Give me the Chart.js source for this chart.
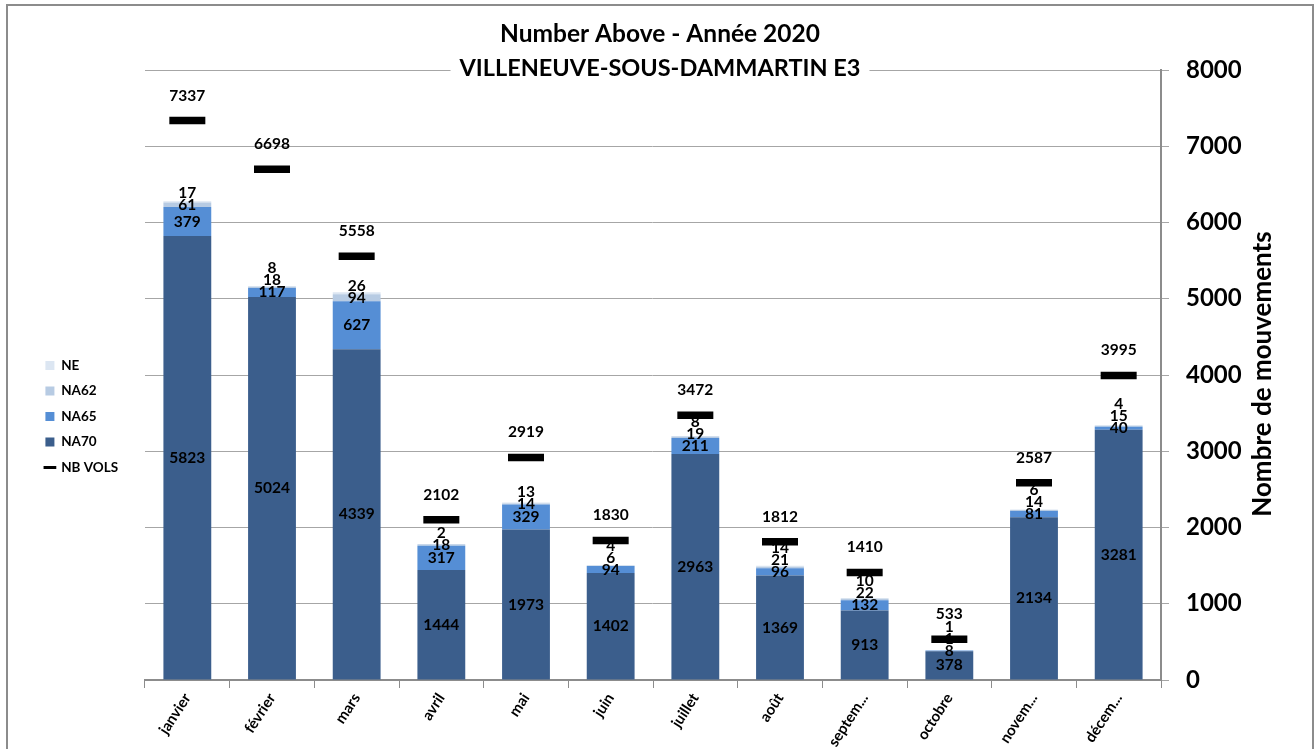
<!DOCTYPE html>
<html>
<head>
<meta charset="utf-8">
<script src="https://cdn.jsdelivr.net/npm/chart.js@4.4.0/dist/chart.umd.min.js"></script>
<style>
  html, body { margin: 0; padding: 0; background: #fff; }
  #wrap { position: relative; width: 1316px; height: 749px; overflow: hidden; }
  #frame { position: absolute; left: 6px; top: 4px; width: 1304px; height: 780px; border: 2px solid #8c8c8c; pointer-events: none; }
</style>
</head>
<body>
<div id="wrap">
  <canvas id="myChart" width="1316" height="749"></canvas>
  <div id="frame"></div>
</div>
<script>
const months = ["janvier", "février", "mars", "avril", "mai", "juin", "juillet", "août", "septem...", "octobre", "novem...", "décem..."];
const na70 = [5823, 5024, 4339, 1444, 1973, 1402, 2963, 1369, 913, 378, 2134, 3281];
const na65 = [379, 117, 627, 317, 329, 94, 211, 96, 132, 8, 81, 40];
const na62 = [61, 18, 94, 18, 14, 6, 19, 21, 22, 1, 14, 15];
const ne = [17, 8, 26, 2, 13, 4, 8, 14, 10, 1, 6, 4];
const nbVols = [7337, 6698, 5558, 2102, 2919, 1830, 3472, 1812, 1410, 533, 2587, 3995];
const yTickValues = [0, 1000, 2000, 3000, 4000, 5000, 6000, 7000, 8000];

// legend shows NE first, NB VOLS last
const legendRank = [3, 2, 1, 0, 4];
const FONT = "Lato";

// numbers on the bars and above the NB VOLS marks
const valueLabels = {
  id: "valueLabels",
  afterDatasetsDraw(chart) {
    const ctx = chart.ctx;
    ctx.save();
    ctx.font = "bold 15.5px " + FONT;
    ctx.fillStyle = "#000";
    ctx.textAlign = "center";
    ctx.textBaseline = "middle";
    for (let i = 0; i < months.length; i++) {
      let lastY = Infinity;
      for (let d = 0; d < 4; d++) {
        const val = chart.data.datasets[d].data[i];
        if (!val) continue;
        const bar = chart.getDatasetMeta(d).data[i];
        let y = (bar.y + bar.base) / 2;
        if (y > lastY - 12) y = lastY - 12;
        ctx.fillText(val, bar.x, y);
        lastY = y;
      }
      const pt = chart.getDatasetMeta(4).data[i];
      ctx.fillText(nbVols[i], pt.x, pt.y - 25);
    }
    ctx.restore();
  }
};

const titles = {
  id: "titles",
  afterDraw(chart) {
    const ctx = chart.ctx;
    ctx.save();
    ctx.fillStyle = "#000";
    ctx.textAlign = "center";
    ctx.textBaseline = "middle";
    ctx.font = "bold 24.5px " + FONT;
    ctx.fillText("Number Above - Année 2020", 660, 34);
    const sub = "VILLENEUVE-SOUS-DAMMARTIN E3";
    ctx.font = "bold 23.5px " + FONT;
    const w = ctx.measureText(sub).width;
    ctx.fillStyle = "#fff";
    ctx.fillRect(660 - w / 2 - 9, 55, w + 18, 26);
    ctx.fillStyle = "#000";
    ctx.fillText(sub, 660, 68);
    ctx.translate(1263, 374);
    ctx.rotate(-Math.PI / 2);
    ctx.font = "bold 26px " + FONT;
    ctx.fillText("Nombre de mouvements", 0, 0);
    ctx.restore();
  }
};

const ctx = document.getElementById("myChart").getContext("2d");
const chart = new Chart(ctx, {
  type: "bar",
  data: {
    labels: months,
    datasets: [
      { label: "NA70", data: na70, backgroundColor: "#3b5e8c" },
      { label: "NA65", data: na65, backgroundColor: "#558ed5" },
      { label: "NA62", data: na62, backgroundColor: "#b7cbe3" },
      { label: "NE", data: ne, backgroundColor: "#dce6f2" },
      {
        label: "NB VOLS",
        type: "line",
        data: nbVols,
        stack: "vols",
        showLine: false,
        order: -1,
        borderColor: "#000",
        backgroundColor: "#000",
        borderWidth: 3,
        pointStyle: "line",
        pointRadius: 18,
        pointHoverRadius: 18,
        pointBorderWidth: 7.5,
        pointBorderColor: "#000"
      }
    ]
  },
  options: {
    responsive: false,
    animation: false,
    barPercentage: 0.565,
    categoryPercentage: 1,
    layout: { padding: { top: 70, left: 14, right: 0, bottom: 0 } },
    plugins: {
      title: { display: false },
      tooltip: { enabled: false },
      legend: {
        position: "left",
        align: "center",
        title: { display: true, text: "", font: { size: 10 }, padding: { top: 0, bottom: 2 } },
        labels: {
          usePointStyle: true,
          boxWidth: 9,
          boxHeight: 9,
          padding: 12,
          color: "#000",
          font: { family: FONT, size: 13.5, weight: "bold" },
          sort: (a, b) => legendRank[a.datasetIndex] - legendRank[b.datasetIndex],
          generateLabels(chart) {
            const items = Chart.defaults.plugins.legend.labels.generateLabels(chart);
            items.forEach((it) => {
              // trailing spaces keep the gap between legend and plot
              it.text = it.text + "\u2003\u2002";
              if (it.datasetIndex === 4) {
                it.pointStyle = "line";
                it.lineWidth = 3;
                it.strokeStyle = "#000";
              } else {
                it.pointStyle = "rect";
                it.lineWidth = 0;
              }
            });
            return items;
          }
        }
      }
    },
    scales: {
      x: {
        stacked: true,
        grid: { offset: true, drawOnChartArea: false, drawTicks: true, tickLength: 8, color: "#8c8c8c" },
        border: { color: "#8c8c8c", width: 2 },
        ticks: {
          color: "#000",
          autoSkip: false,
          minRotation: 57,
          maxRotation: 57,
          padding: 2,
          font: { family: FONT, size: 15, weight: "bold" }
        },
        afterFit(scale) {
          scale.height = 69;
          scale.paddingLeft = 145;
        }
      },
      y: {
        position: "right",
        stacked: true,
        min: 0,
        max: 8000,
        afterBuildTicks(scale) {
          scale.ticks = yTickValues.map((v) => ({ value: v }));
        },
        ticks: {
          color: "#000",
          padding: 17,
          font: { family: FONT, size: 24, weight: "bold" },
          callback: (v) => String(v)
        },
        grid: { color: "#a6a6a6", drawTicks: true, tickLength: 8 },
        border: { color: "#8c8c8c", width: 2 },
        afterFit(scale) {
          scale.width = 155;
        }
      }
    }
  },
  plugins: [valueLabels, titles]
});
</script>
</body>
</html>
